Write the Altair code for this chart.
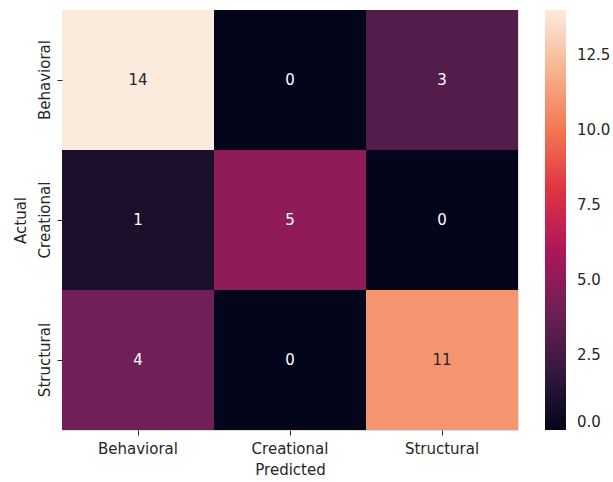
import altair as alt
import pandas as pd

classes = ["Behavioral", "Creational", "Structural"]
# rows = actual class, columns = predicted class
counts = [
    [14, 0, 3],
    [1, 5, 0],
    [4, 0, 11],
]

# rocket colour map stops spread over the 0..14 range
cmap_domain = [0, 2, 4, 6, 8, 10, 12, 14]
cmap_colors = ["#03051a", "#35193e", "#701f57", "#ad1759",
               "#e13342", "#f37651", "#f6b48f", "#faebdd"]
legend_ticks = [0, 2.5, 5, 7.5, 10, 12.5]

rows = []
for i, actual in enumerate(classes):
    for j, pred in enumerate(classes):
        rows.append({"Actual": actual, "Predicted": pred, "count": counts[i][j]})
df = pd.DataFrame(rows)

FONT = "DejaVu Sans"
FS = 15
INK = "#262626"

x_enc = alt.X("Predicted:N", sort=classes, title="Predicted",
              scale=alt.Scale(paddingInner=0, paddingOuter=0),
              axis=alt.Axis(labelAngle=0, labelFontSize=FS, titleFontSize=FS,
                            labelColor=INK, titleColor=INK,
                            tickColor=INK, tickSize=5, domain=False,
                            labelPadding=6, titlePadding=6, titleFontWeight="normal",
                            labelFont=FONT, titleFont=FONT))
y_enc = alt.Y("Actual:N", sort=classes, title="Actual",
              scale=alt.Scale(paddingInner=0, paddingOuter=0),
              axis=alt.Axis(labelAngle=-90, labelAlign="center", labelBaseline="bottom",
                            labelFontSize=FS, titleFontSize=FS,
                            labelColor=INK, titleColor=INK,
                            tickColor=INK, tickSize=5, domain=False,
                            labelPadding=5, titlePadding=9, titleFontWeight="normal",
                            labelFont=FONT, titleFont=FONT))

heat = alt.Chart(df).mark_rect(strokeWidth=0).encode(
    x=x_enc,
    y=y_enc,
    color=alt.Color("count:Q",
                    scale=alt.Scale(domain=cmap_domain, range=cmap_colors, interpolate="rgb"),
                    legend=alt.Legend(type="gradient", title=None, orient="right", offset=27,
                                      gradientLength=420, gradientThickness=21,
                                      values=legend_ticks, format=".1f",
                                      labelFontSize=FS, labelFont=FONT,
                                      labelColor=INK, labelOffset=11,
                                      gradientStrokeWidth=0)),
)

text = alt.Chart(df).mark_text(fontSize=FS, font=FONT).encode(
    x=alt.X("Predicted:N", sort=classes),
    y=alt.Y("Actual:N", sort=classes),
    text="count:Q",
    color=alt.condition(alt.datum.count >= 10, alt.value(INK), alt.value("white")),
)

chart = (heat + text).properties(
    width=456, height=420,
    autosize=alt.AutoSizeParams(type="none"),
    padding={"left": 62, "top": 10, "right": 95, "bottom": 52},
).configure_view(stroke=None).configure(background="white")

chart.save("out.html", embed_options={"renderer": "svg", "actions": False})
